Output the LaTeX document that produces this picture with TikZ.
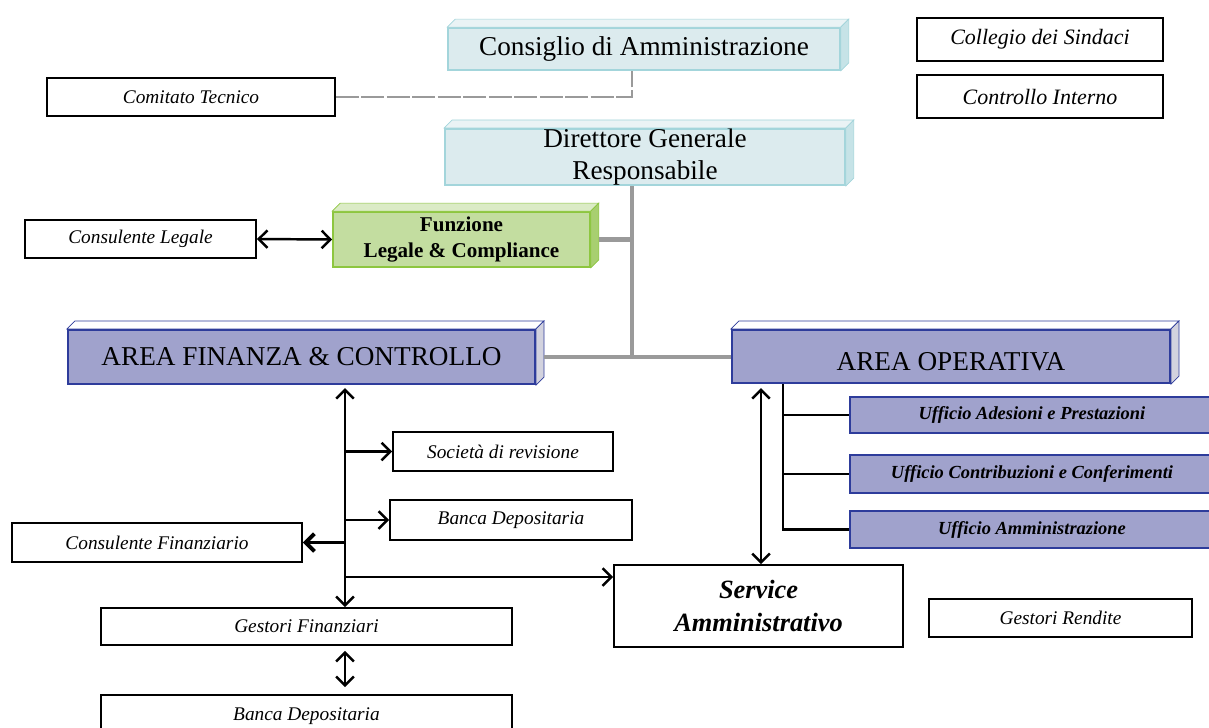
\documentclass[tikz,border=0pt]{standalone}
\usepackage{fontspec}
\setmainfont{Liberation Serif}
\usetikzlibrary{arrows.meta}

\definecolor{azzurro}{HTML}{DCEBEE}
\definecolor{bordoaz}{HTML}{A3D5DB}
\definecolor{latoaz}{HTML}{C6E3E7}
\definecolor{verde}{HTML}{C3DDA0}
\definecolor{bordove}{HTML}{8DC63F}
\definecolor{latove}{HTML}{A8CF70}
\definecolor{viola}{HTML}{A0A2CC}
\definecolor{bordovi}{HTML}{2E3C9B}
\definecolor{latovi}{HTML}{D2D2DE}
\definecolor{grigio}{HTML}{9A9A9A}

% facce superiore e laterale dei blocchi in rilievo
\newcommand{\rilievo}[4]{%
	\filldraw[draw=#2, fill=#3] (#1.north west) -- ++(0.16cm,0.16cm) -- ([shift={(0.16cm,0.16cm)}]#1.north east) -- (#1.north east) -- cycle;
	\filldraw[draw=#2, fill=#4] (#1.north east) -- ++(0.16cm,0.16cm) -- ([shift={(0.16cm,0.16cm)}]#1.south east) -- (#1.south east) -- cycle;
}

\begin{document}
\begin{tikzpicture}[x=0.02cm,y=-0.02cm,
	cella/.style={draw=black, line width=1.1pt, fill=white, inner sep=0pt, font=\fontsize{11}{13}\selectfont\itshape},
	cielo/.style={draw=bordoaz, line width=1pt, fill=azzurro, inner sep=0pt, align=center, font=\fontsize{15.5}{18}\selectfont},
	prato/.style={draw=bordove, line width=1pt, fill=verde, inner sep=0pt, align=center, font=\fontsize{12}{15}\selectfont\bfseries},
	area/.style={draw=bordovi, line width=1.2pt, fill=viola, inner sep=0pt, font=\fontsize{15.5}{18}\selectfont},
	ufficio/.style={draw=bordovi, line width=1.1pt, fill=viola, inner sep=0pt, font=\fontsize{10.5}{12}\selectfont\bfseries\itshape},
	grosso/.style={draw=grigio, line width=2.8pt},
	tratto/.style={draw=grigio, line width=1.1pt, dash pattern=on 13pt off 1.5pt},
	nero/.style={draw=black, line width=1.4pt},
	freccia/.style={nero, -{Straight Barb[length=5pt,width=10pt]}},
	doppia/.style={nero, {Straight Barb[length=5pt,width=10pt]}-{Straight Barb[length=5pt,width=10pt]}},
]
	\useasboundingbox (0,0) rectangle (1209,727);
	%
	\node[cielo, minimum width=7.84cm, minimum height=0.84cm] (cda) at (644,49) {Consiglio di Amministrazione};
	\rilievo{cda}{bordoaz}{azzurro!60}{latoaz}
	\node[cielo, minimum width=8cm, minimum height=1.08cm] (dg) at (645,157) {Direttore Generale\\Responsabile};
	\rilievo{dg}{bordoaz}{azzurro!60}{latoaz}
	\node[cella, minimum width=5.76cm, minimum height=0.76cm] (comitato) at (191,97) {Comitato Tecnico};
	\node[cella, font=\fontsize{12.5}{14}\selectfont\itshape, minimum width=4.92cm, minimum height=0.86cm] (collegio) at (1040,39.5) {Collegio dei Sindaci};
	\node[cella, font=\fontsize{12.5}{14}\selectfont\itshape, minimum width=4.92cm, minimum height=0.86cm] (controllo) at (1040,96.5) {Controllo Interno};
	%
	\node[cella, minimum width=4.62cm, minimum height=0.76cm] (conslegale) at (140.5,239) {Consulente Legale};
	\node[prato, minimum width=5.14cm, minimum height=1.1cm] (funzione) at (461.5,239.5) {Funzione\\Legale \& Compliance};
	\rilievo{funzione}{bordove}{verde!60}{latove}
	%
	\node[area, minimum width=9.34cm, minimum height=1.08cm] (afc) at (301.5,357) {AREA FINANZA \& CONTROLLO};
	\rilievo{afc}{bordovi}{white}{latovi}
	\node[area, minimum width=8.76cm, minimum height=1.06cm, text height=0.56cm, text depth=0cm] (aop) at (951,356.5) {AREA OPERATIVA};
	\rilievo{aop}{bordovi}{white}{latovi}
	%
	\node[ufficio, minimum width=7.3cm, minimum height=0.72cm] (uff1) at (1032,415) {Ufficio Adesioni e Prestazioni};
	\node[ufficio, minimum width=7.3cm, minimum height=0.76cm] (uff2) at (1032,474) {Ufficio Contribuzioni e Conferimenti};
	\node[ufficio, minimum width=7.3cm, minimum height=0.74cm] (uff3) at (1032,529.5) {Ufficio Amministrazione};
	%
	\node[cella, minimum width=4.4cm, minimum height=0.78cm] (socrev) at (503,451.5) {Società di revisione};
	\node[cella, minimum width=4.84cm, minimum height=0.8cm] (banca1) at (511,520) {Banca Depositaria};
	\node[cella, minimum width=5.8cm, minimum height=0.78cm] (consfin) at (157,542.5) {Consulente Finanziario};
	\node[cella, minimum width=5.78cm, minimum height=1.64cm, align=center, font=\fontsize{15}{19}\selectfont\bfseries\itshape] (service) at (758.5,606) {Service\\Amministrativo};
	\node[cella, minimum width=8.22cm, minimum height=0.74cm] (gestfin) at (306.5,626.5) {Gestori Finanziari};
	\node[cella, minimum width=8.22cm, minimum height=0.84cm] (banca2) at (306.5,716) {Banca Depositaria};
	\node[cella, minimum width=5.26cm, minimum height=0.76cm] (gestrend) at (1060.5,618) {Gestori Rendite};
	%
	% collegamenti grigi
	\coordinate (snodo) at ([xshift=-0.26cm]dg.south);
	\draw[tratto] (comitato.east) -| ([xshift=-0.24cm]cda.south);
	\draw[grosso] (snodo) -- (snodo |- afc.east);
	\draw[grosso] ([xshift=0.16cm]afc.east) -- (aop.west |- afc.east);
	\draw[grosso] ([xshift=0.16cm]funzione.east) -- (funzione.east -| snodo);
	\draw[doppia] (conslegale.east) -- (funzione.west);
	%
	% area finanza
	\coordinate (tronco) at ([xshift=0.87cm]afc.south);
	\coordinate (ingresso) at ([yshift=0.58cm]service.west);
	\draw[doppia] ([yshift=-0.06cm]tronco) -- (tronco |- gestfin.north);
	\draw[freccia] (tronco |- socrev.west) -- (socrev.west);
	\draw[freccia] (tronco |- banca1.west) -- (banca1.west);
	\draw[freccia, line width=2.2pt] (tronco |- consfin.east) -- (consfin.east);
	\draw[freccia] (tronco |- ingresso) -- (ingresso);
	\draw[doppia] ([xshift=0.77cm,yshift=-0.1cm]gestfin.south) -- ([xshift=0.77cm,yshift=0.14cm]banca2.north);
	%
	% area operativa
	\coordinate (ramo) at ([xshift=-3.36cm]aop.south);
	\draw[doppia] ([xshift=0.05cm,yshift=-0.08cm]service.north |- aop.south) -- ([xshift=0.05cm]service.north);
	\draw[nero] (ramo) |- (uff3.west);
	\draw[nero] (ramo |- uff1.west) -- (uff1.west);
	\draw[nero] (ramo |- uff2.west) -- (uff2.west);
\end{tikzpicture}
\end{document}
